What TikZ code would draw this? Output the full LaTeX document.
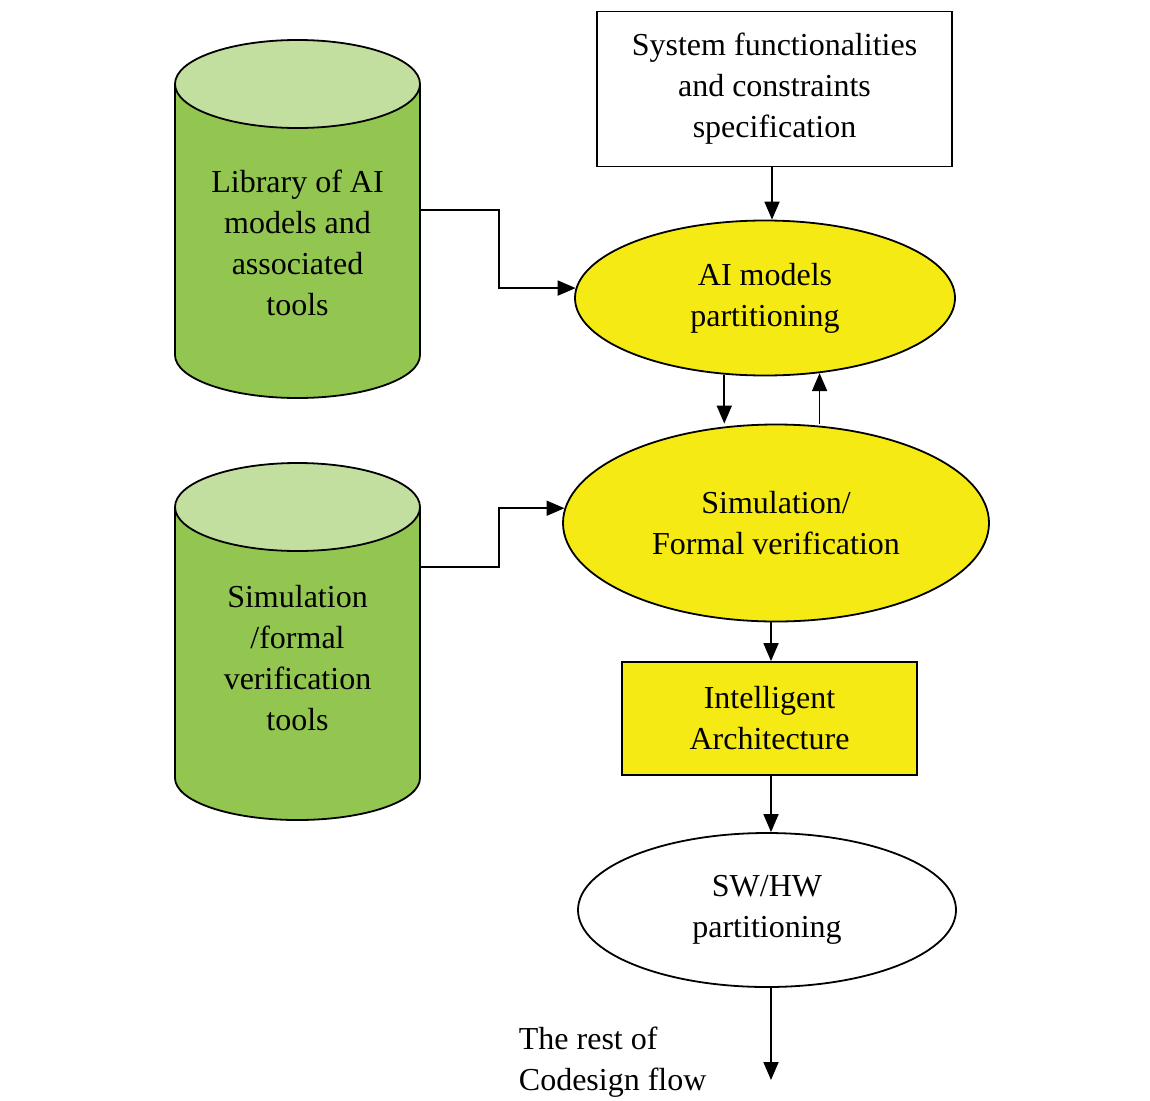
\documentclass[tikz,border=0pt]{standalone}
\usepackage{fontspec}
\setmainfont{Liberation Serif}
\usetikzlibrary{arrows.meta,shapes.geometric}

\definecolor{aiyellow}{RGB}{246,234,20}
\definecolor{cylgreen}{RGB}{146,198,80}
\definecolor{cyltop}{RGB}{195,223,160}

\begin{document}
\begin{tikzpicture}[x=1pt, y=-1pt, line width=1.8pt, align=center,
    font=\fontsize{32}{41}\selectfont,
    box/.style={rectangle, draw, inner sep=0pt},
    oval/.style={ellipse, draw, fill=aiyellow, inner sep=0pt},
    arr/.style={-{Triangle[length=18pt,width=15pt]}}]
  \useasboundingbox (0,0) rectangle (1150,1100);
  % cylinders
  \filldraw[fill=cylgreen] (175,84) -- (175,355) arc[start angle=180, end angle=0, x radius=122.5, y radius=43] -- (420,84) -- cycle;
  \filldraw[fill=cyltop] (297.5,84) ellipse[x radius=122.5, y radius=44];
  \filldraw[fill=cylgreen] (175,507) -- (175,778) arc[start angle=180, end angle=0, x radius=122.5, y radius=42] -- (420,507) -- cycle;
  \filldraw[fill=cyltop] (297.5,507) ellipse[x radius=122.5, y radius=44];
  \node[minimum width=245pt, inner sep=0pt] (lib) at (297.5,243) {Library of AI\\models and\\associated\\tools};
  \node[minimum width=245pt, inner sep=0pt] (simtools) at (297.5,658) {Simulation\\/formal\\verification\\tools};

  \node[box, minimum width=355pt, minimum height=155pt] (spec) at (774.5,89) {System functionalities\\and constraints\\specification};
  \node[oval, minimum width=380pt, minimum height=155pt] (part) at (765,298) {AI models\\partitioning};
  \node[oval, minimum width=426pt, minimum height=197pt] (verif) at (776,523) {Simulation/\\Formal verification};
  \node[box, fill=aiyellow, minimum width=295pt, minimum height=113pt] (arch) at (769.5,718.5) {Intelligent\\Architecture};
  \node[oval, fill=white, minimum width=378pt, minimum height=154pt] (swhw) at (767,910) {SW/HW\\partitioning};
  \node[align=left, anchor=west, inner sep=0pt] (rest) at (518,1062) {The rest of\\Codesign flow};
  \coordinate (flowend) at (771,1080);

  \draw[arr] ([xshift=-2.5pt]spec.south) -- ([xshift=-2.5pt]spec.south |- part.north);
  \draw[arr] ([yshift=33pt]lib.east) -- ++(78,0) |- (part.177);
  \draw[arr] ([yshift=91pt]simtools.east) -- ++(78,0) |- (verif.176);
  \draw[arr] (part.242) -- (part.242 |- verif.north);
  \draw[arr] (verif.north -| part.306.8) -- (part.306.8);
  \draw[arr] ([xshift=-5pt]verif.south) -- ([xshift=-5pt]verif.south |- arch.north);
  \draw[arr] ([xshift=1.5pt]arch.south) -- ([xshift=1.5pt]arch.south |- swhw.north);
  \draw[arr] ([xshift=4pt]swhw.south) -- (flowend);
\end{tikzpicture}
\end{document}
